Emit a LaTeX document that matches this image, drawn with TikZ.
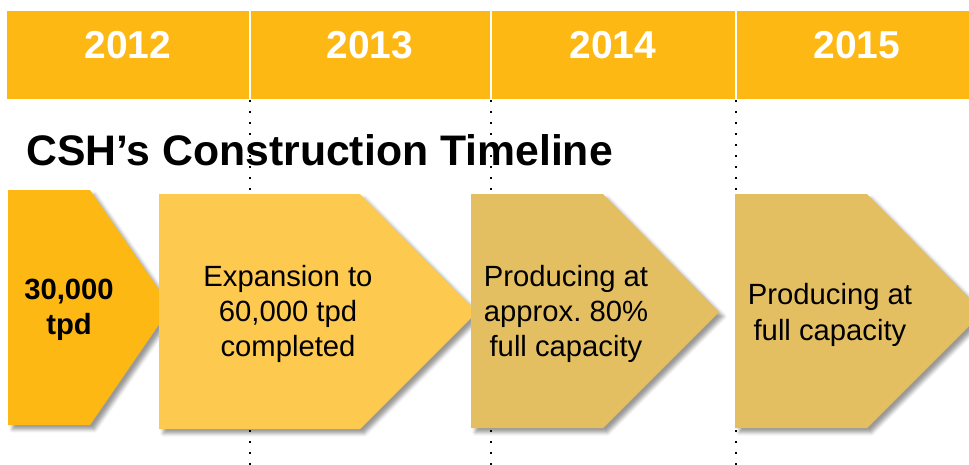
\documentclass[tikz,border=0pt]{standalone}
\usepackage{fontspec}
\setmainfont{Liberation Sans}
\usetikzlibrary{shadows.blur}
\definecolor{bandorange}{HTML}{FDB813}
\definecolor{boxorange}{HTML}{FDB813}
\definecolor{boxyellow}{HTML}{FDC94F}
\definecolor{boxtan}{HTML}{E4BF62}

\begin{document}
\begin{tikzpicture}[x=0.25mm,y=-0.25mm,
    year/.style={text=white,font=\bfseries\fontsize{27.7}{32}\selectfont},
    boxtext/.style={align=center,font=\fontsize{20.8}{25}\selectfont},
    arrowbox/.style={blur shadow={shadow xshift=1.1mm,shadow yshift=-1.1mm,
        shadow blur radius=0.9mm,shadow opacity=40}},
    dotline/.style={line width=0.55mm,dash pattern=on 0.55mm off 2.2mm}]
        \clip (0,0) rectangle (969,465);
        % year band
        \fill[bandorange] (7,11) rectangle (969,99);
        \draw[white,line width=0.4mm] (250,11) -- (250,99);
        \draw[white,line width=0.4mm] (491,11) -- (491,99);
        \draw[white,line width=0.4mm] (736,11) -- (736,99);
        \node[year] (y2012) at (128,45) {2012};
        \node[year] (y2013) at (370,45) {2013};
        \node[year] (y2014) at (613,45) {2014};
        \node[year] (y2015) at (857,45) {2015};
        % year separators
        \draw[dotline] (250,100) -- (250,465);
        \draw[dotline] (491,100) -- (491,465);
        \draw[dotline] (736,100) -- (736,465);
        \node[anchor=base west,inner sep=0pt,font=\bfseries\fontsize{30.4}{36}\selectfont]
            (title) at (26,165) {CSH’s Construction Timeline};
        % arrow boxes
        \fill[boxorange,arrowbox] (8,190) -- (90,190) -- (171,307) -- (90,425) -- (8,425) -- cycle;
        \fill[boxyellow,arrowbox] (159,194) -- (360,194) -- (477,312) -- (360,429) -- (159,429) -- cycle;
        \fill[boxtan,arrowbox] (471,194) -- (603,194) -- (719,312) -- (603,428) -- (471,428) -- cycle;
        \fill[boxtan,arrowbox] (735,194) -- (867,194) -- (983,312) -- (867,428) -- (735,428) -- cycle;
        \node[boxtext,font=\bfseries\fontsize{20.8}{25}\selectfont] (start) at (69,310) {30,000\\tpd};
        \node[boxtext] (expansion) at (288,314) {Expansion to\\60,000 tpd\\completed};
        \node[boxtext] (eighty) at (566,314) {Producing at\\approx.\ 80\%\\full capacity};
        \node[boxtext] (full) at (830,315) {Producing at\\full capacity};
\end{tikzpicture}
\end{document}
